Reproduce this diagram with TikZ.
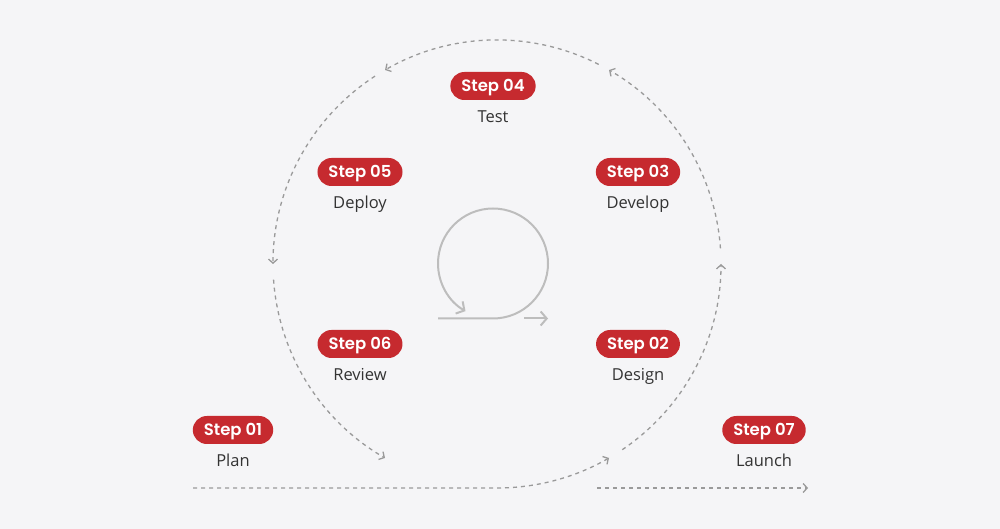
\documentclass[tikz,border=0pt]{standalone}
\usepackage{fontspec}
\setmainfont{Open Sans}
\newfontfamily\stepfont{Poppins SemiBold}
\usetikzlibrary{arrows.meta, calc, positioning}
\definecolor{paper}{HTML}{F5F5F7}
\definecolor{stepred}{HTML}{C62A2F}
\definecolor{flowgray}{HTML}{9A9A9A}
\definecolor{loopgray}{HTML}{BDBDBD}
\definecolor{labelgray}{HTML}{333333}
\tikzset{
  pill/.style={fill=stepred, text=white, rounded corners=14pt, minimum height=28pt,
    inner xsep=11pt, inner ysep=0pt, text height=11.4pt, text depth=0pt,
    font=\stepfont\fontsize{16.5}{18}\selectfont},
  steplabel/.style={anchor=base, text=labelgray, inner sep=0pt, font=\fontsize{16.5}{18}\selectfont},
  flow/.style={flowgray, line width=1.3pt, dash pattern=on 4pt off 4pt,
    -{Straight Barb[length=4pt, width=9pt]}},
  cycle/.style={loopgray, line width=2pt, -{Straight Barb[length=6pt, width=14pt]}}
}
\begin{document}
\begin{tikzpicture}[x=1pt, y=1pt]
% Background and frame
\fill[paper] (0,0) rectangle (1000,529);
\useasboundingbox (0,0) rectangle (1000,529);
% Centre of the big dashed loop, radius 224
\coordinate (c) at (497,265);
% Centre of the small loop icon, radius 55
\coordinate (i) at (493,265.5);
% Ends of the straight runs at the bottom
\coordinate (plan) at (193,41);
\coordinate (launch start) at (597,41);
\coordinate (launch end) at (808,41);
% Run from Plan into the loop
\draw[flow] (plan) -- ($ (c)+(-90:224) $) arc[start angle=-90, end angle=-60, radius=224];
% Arcs of the loop, each ending with an arrow
\draw[flow] ($ (c)+(-56:224) $) arc[start angle=-56, end angle=0, radius=224];
\draw[flow] ($ (c)+(4:224) $) arc[start angle=4, end angle=60, radius=224];
\draw[flow] ($ (c)+(63:224) $) arc[start angle=63, end angle=120, radius=224];
\draw[flow] ($ (c)+(123:224) $) arc[start angle=123, end angle=180, radius=224];
\draw[flow] ($ (c)+(184:224) $) arc[start angle=184, end angle=240, radius=224];
% Run out to Launch
\draw[flow] (launch start) -- (launch end);
% Small loop icon in the middle
\draw[cycle] ($ (i)+(-55,-55) $) -- ($ (i)+(0,-55) $) arc[start angle=-90, end angle=240, radius=55];
\draw[cycle] ($ (i)+(31,-55) $) -- ($ (i)+(55,-55) $);
% Step badges
\node[pill] (s1) at (233,99) {Step 01};
\node[pill] (s2) at (638,185) {Step 02};
\node[pill] (s3) at (638,357) {Step 03};
\node[pill] (s4) at (493,443) {Step 04};
\node[pill] (s5) at (360,357) {Step 05};
\node[pill] (s6) at (360,185) {Step 06};
\node[pill] (s7) at (764,99) {Step 07};
% Names under the badges
\node[steplabel] (plan label) at ($ (s1)+(0,-37) $) {Plan};
\node[steplabel] (design label) at ($ (s2)+(0,-37) $) {Design};
\node[steplabel] (develop label) at ($ (s3)+(0,-37) $) {Develop};
\node[steplabel] (test label) at ($ (s4)+(0,-37) $) {Test};
\node[steplabel] (deploy label) at ($ (s5)+(0,-37) $) {Deploy};
\node[steplabel] (review label) at ($ (s6)+(0,-37) $) {Review};
\node[steplabel] (launch label) at ($ (s7)+(0,-37) $) {Launch};
\end{tikzpicture}
\end{document}
